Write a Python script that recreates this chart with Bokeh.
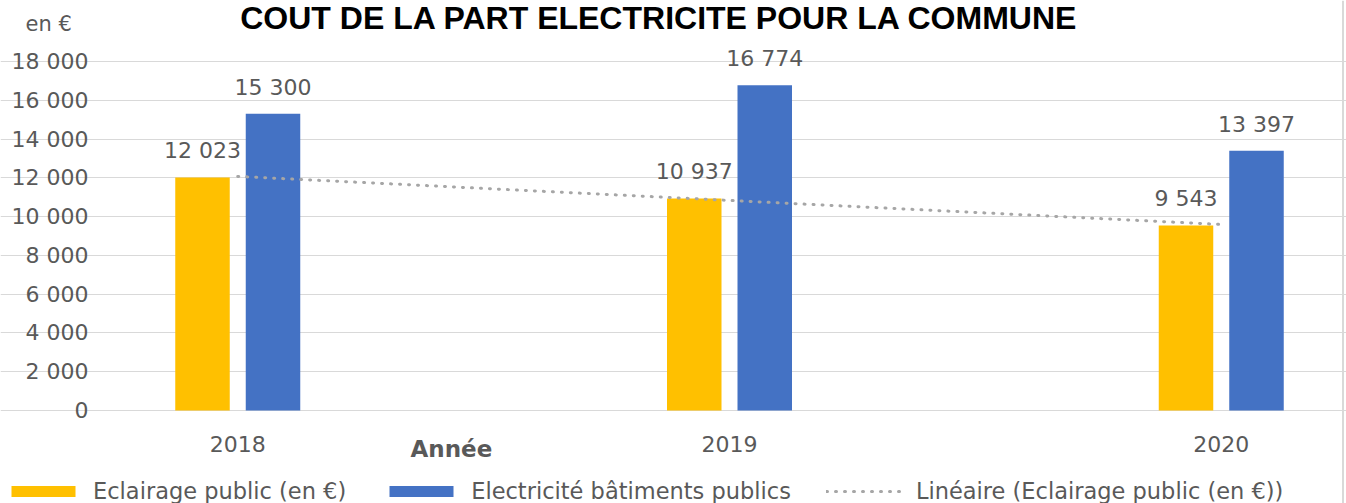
import numpy as np
from bokeh.plotting import figure
from bokeh.models import (ColumnDataSource, FixedTicker, Label, LabelSet, Legend,
                          LegendItem, Range1d, Span)
from bokeh.embed import file_html
from bokeh.resources import INLINE
from bokeh.core.properties import value

# ---------------- data ----------------
years = [2018, 2019, 2020]
x_tick_labels = ["2018", "2019", "2020"]
eclairage = [12023, 10937, 9543]
batiments = [15300, 16774, 13397]
eclairage_labels = ["12 023", "10 937", "9 543"]
batiments_labels = ["15 300", "16 774", "13 397"]
y_ticks = [0, 2000, 4000, 6000, 8000, 10000, 12000, 14000, 16000, 18000]
y_tick_labels = ["0", "2 000", "4 000", "6 000", "8 000", "10 000",
                 "12 000", "14 000", "16 000", "18 000"]
series_names = ["Eclairage public (en €)", "Electricité bâtiments publics",
                "Linéaire (Eclairage public (en €))"]
title_text = "COUT DE LA PART ELECTRICITE POUR LA COMMUNE"
y_unit_text = "en €"
x_title_text = "Année"

# ---------------- styles / layout ----------------
YELLOW = "#FFC000"
BLUE = "#4472C4"
TREND = "#A6A6A6"
TXT = "#595959"
GRID = "#D9D9D9"
FONT = "DejaVu Sans"

W, H = 1346, 503
CAT0_PX = 237.25        # pixel x of first category
PX_PER_YEAR = 491.75
Y0_PX, YTOP_PX = 410.0, 61.0   # pixel y of value 0 and of top tick
AREA_L, AREA_R = 114.0, 1342.0  # plot area horizontal extent (px)


def xd(px):
    return years[0] + (px - CAT0_PX) / PX_PER_YEAR


def yd(py):
    return (Y0_PX - py) * y_ticks[-1] / (Y0_PX - YTOP_PX)


OFF = 35.25 / PX_PER_YEAR
BW = 54.5 / PX_PER_YEAR

p = figure(width=W, height=H, output_backend="svg", toolbar_location=None,
           x_range=Range1d(xd(0), xd(W)), y_range=Range1d(yd(H), yd(0)),
           min_border=0, min_border_left=0, min_border_right=0,
           min_border_top=0, min_border_bottom=0)
p.title.visible = False
p.outline_line_color = None
p.background_fill_color = "white"
p.border_fill_color = "white"

yrs = np.array(years, dtype=float)
src = ColumnDataSource(dict(
    xe=yrs - OFF, xb=yrs + OFF,
    e=eclairage, b=batiments,
    le=eclairage_labels, lb=batiments_labels))

r1 = p.vbar(x="xe", top="e", bottom=0, width=BW, source=src, fill_color=YELLOW, line_color=None)
r2 = p.vbar(x="xb", top="b", bottom=0, width=BW, source=src, fill_color=BLUE, line_color=None)

slope, icpt = np.polyfit(yrs, np.array(eclairage, dtype=float), 1)
tx = np.array([yrs[0], yrs[-1]])
r3 = p.line(tx, slope * tx + icpt, line_color=TREND, line_width=3,
            line_dash="1 8", line_cap="round")

for xcol, ycol, lcol in (("xe", "e", "le"), ("xb", "b", "lb")):
    p.add_layout(LabelSet(x=xcol, y=ycol, text=lcol, source=src, y_offset=19,
                          text_align="center", text_baseline="alphabetic",
                          text_font=value(FONT), text_font_size="22px", text_color=TXT))

# grid
p.xgrid.visible = False
p.ygrid.grid_line_color = GRID
p.ygrid.grid_line_width = 1
p.ygrid.ticker = FixedTicker(ticks=y_ticks)
p.ygrid.bounds = (xd(AREA_L), xd(AREA_R))

# axes drawn at fixed data locations
p.yaxis.fixed_location = xd(AREA_L)
p.yaxis.ticker = FixedTicker(ticks=y_ticks)
p.yaxis.major_label_overrides = {t: s for t, s in zip(y_ticks, y_tick_labels)}
p.yaxis.axis_line_color = None
p.yaxis.major_tick_line_color = None
p.yaxis.minor_tick_line_color = None
p.yaxis.major_tick_out = 0
p.yaxis.major_label_standoff = 26
p.yaxis.major_label_text_font = FONT
p.yaxis.major_label_text_font_size = "22px"
p.yaxis.major_label_text_color = TXT

p.xaxis.fixed_location = 0
p.xaxis.ticker = FixedTicker(ticks=years)
p.xaxis.major_label_overrides = {t: s for t, s in zip(years, x_tick_labels)}
p.xaxis.axis_line_color = None
p.xaxis.major_tick_line_color = None
p.xaxis.minor_tick_line_color = None
p.xaxis.major_tick_out = 0
p.xaxis.major_label_standoff = 25
p.xaxis.major_label_text_font = FONT
p.xaxis.major_label_text_font_size = "22px"
p.xaxis.major_label_text_color = TXT

# right border of the chart area
p.add_layout(Span(location=xd(AREA_R + 0.5), dimension="height",
                  line_color=GRID, line_width=2))

# texts
p.add_layout(Label(x=xd(659), y=yd(17), text=title_text,
                   text_align="center", text_baseline="alphabetic",
                   text_font="Liberation Sans", text_font_style="bold",
                   text_font_size="32px", text_color="black"))
p.add_layout(Label(x=xd(25), y=yd(23), text=y_unit_text,
                   text_align="left", text_baseline="alphabetic",
                   text_font=FONT, text_font_size="21px", text_color=TXT))
p.add_layout(Label(x=xd(410), y=yd(448), text=x_title_text,
                   text_align="left", text_baseline="alphabetic",
                   text_font=FONT, text_font_style="bold",
                   text_font_size="23px", text_color=TXT))

legend = Legend(items=[LegendItem(label=series_names[0], renderers=[r1]),
                       LegendItem(label=series_names[1], renderers=[r2]),
                       LegendItem(label=series_names[2], renderers=[r3])],
                location=(3, -1), orientation="horizontal",
                glyph_width=80, glyph_height=14, label_standoff=10, spacing=35,
                padding=0, margin=0, border_line_color=None, background_fill_alpha=0,
                label_text_font=FONT, label_text_font_size="22.5px",
                label_text_color=TXT)
p.add_layout(legend)

open("out.html", "w").write(file_html(p, INLINE))
